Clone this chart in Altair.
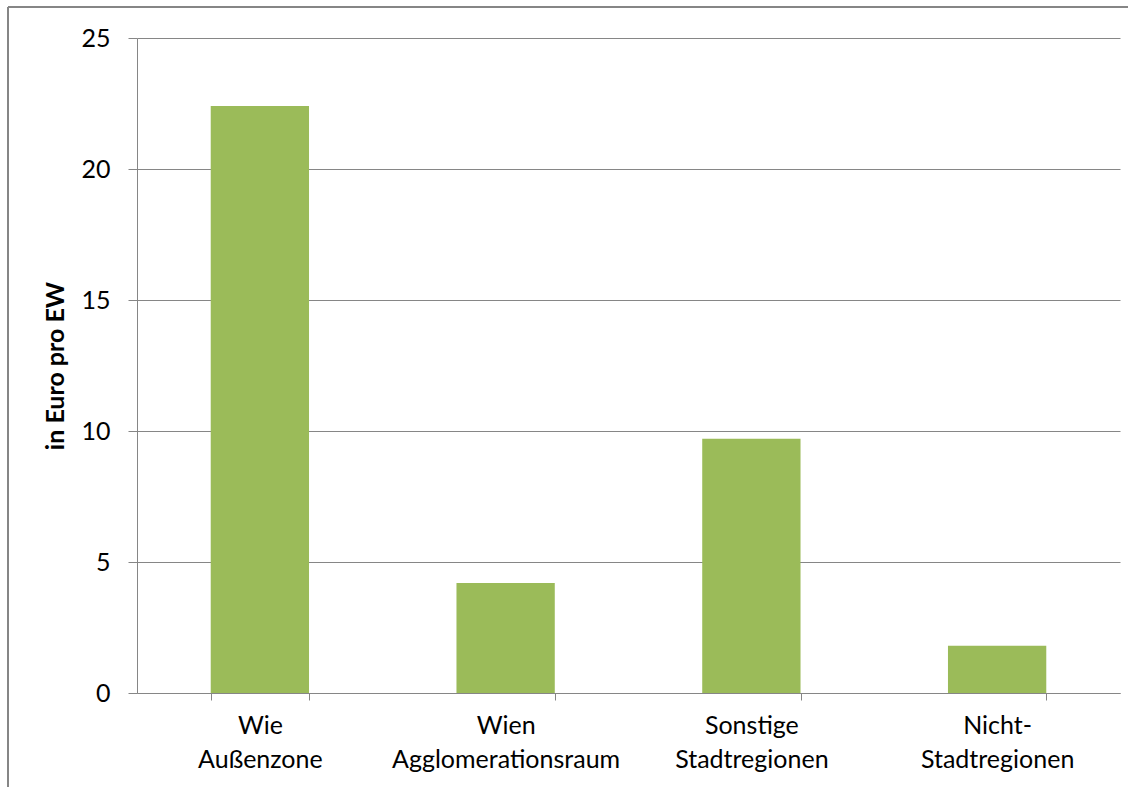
import altair as alt
import pandas as pd

categories = ["Wie|Außenzone", "Wien|Agglomerationsraum", "Sonstige|Stadtregionen", "Nicht-|Stadtregionen"]
values = [22.4, 4.2, 9.7, 1.8]
y_ticks = [0, 5, 10, 15, 20, 25]

df = pd.DataFrame({"cat": categories, "val": values})

W, H = 983, 655
LEFT, TOP = 137, 38
FONT = "Lato"
GRAY = "#868686"

bars = alt.Chart(df).mark_bar(color="#9BBB59").encode(
    x=alt.X("cat:N", sort=categories, title=None,
            scale=alt.Scale(paddingInner=0.6, paddingOuter=0.3),
            axis=alt.Axis(labelAngle=0, labelExpr="split(datum.label, '|')",
                          tickBand="extent", tickSize=7, tickColor=GRAY,
                          domainColor=GRAY, labelFont=FONT, labelFontSize=25,
                          labelColor="#000000", labelPadding=13, labelLineHeight=34,
                          labelLimit=400)),
    y=alt.Y("val:Q", title="in Euro pro EW",
            scale=alt.Scale(domain=[0, 25], nice=False),
            axis=alt.Axis(values=y_ticks, grid=True, gridColor=GRAY, tickSize=9,
                          tickColor=GRAY, domainColor=GRAY, labelFont=FONT,
                          labelFontSize=25, labelColor="#000000", labelPadding=18,
                          titleFont=FONT, titleFontSize=25, titleFontWeight="bold",
                          titleColor="#000000", titlePadding=12)),
)

frame_top = alt.Chart(df).mark_rule(color=GRAY, strokeWidth=1.5).encode(
    x=alt.value(8 - LEFT), x2=alt.value(1140 - LEFT), y=alt.value(7 - TOP)
)
frame_left = alt.Chart(df).mark_rule(color=GRAY, strokeWidth=1.5).encode(
    x=alt.value(8 - LEFT), y=alt.value(7 - TOP), y2=alt.value(800 - TOP)
)

chart = alt.layer(bars, frame_top, frame_left).properties(
    width=W, height=H,
    autosize=alt.AutoSizeParams(type="none"),
    padding={"left": LEFT, "top": TOP, "right": 1128 - LEFT - W, "bottom": 787 - TOP - H},
    background="white",
).configure_view(stroke=None)

chart.save("out.html", embed_options={"renderer": "svg", "actions": False})
